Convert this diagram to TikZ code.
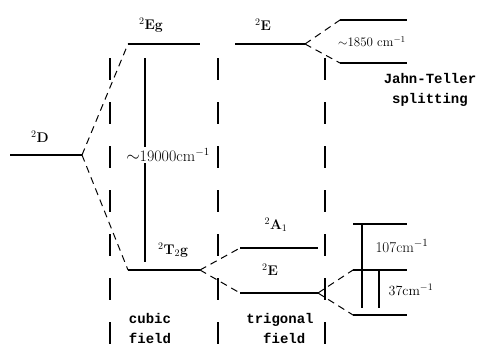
\documentclass[tikz,border=0pt]{standalone}
\usepackage{fontspec}
\newfontfamily\wordfont{Liberation Mono}
\usetikzlibrary{positioning}

\tikzset{
  level/.style={line width=1.4pt},
  split/.style={dash pattern=on 7pt off 5pt, line width=1pt},
  fieldline/.style={dash pattern=on 22pt off 22pt, line width=1.1pt},
  gapline/.style={line width=1.1pt},
  term/.style={font=\fontsize{14}{16}\selectfont\bfseries, inner sep=1pt},
  gaplabel/.style={font=\fontsize{16}{18}\selectfont, fill=white, inner sep=1pt},
  word/.style={font=\wordfont\bfseries\fontsize{14}{17}\selectfont, align=center, inner sep=0pt}
}

\begin{document}
\begin{tikzpicture}[x=1pt, y=-1pt]
  \useasboundingbox (0,0) rectangle (479,351);

  % level ends
  \coordinate (Dl) at (10,155);   \coordinate (Dr) at (82,155);
  \coordinate (Egl) at (128,44);  \coordinate (Egr) at (200,44);
  \coordinate (Tgl) at (128,270); \coordinate (Tgr) at (200,270);
  \coordinate (Eul) at (235,44);  \coordinate (Eur) at (305,44);
  \coordinate (JTal) at (340,20); \coordinate (JTar) at (407,20);
  \coordinate (JTbl) at (340,63); \coordinate (JTbr) at (407,63);
  \coordinate (Al) at (240,248);  \coordinate (Ar) at (318,248);
  \coordinate (Etl) at (240,293); \coordinate (Etr) at (318,293);
  \coordinate (Ral) at (353,224); \coordinate (Rar) at (407,224);
  \coordinate (Rbl) at (353,270); \coordinate (Rbr) at (407,270);
  \coordinate (Rcl) at (353,315); \coordinate (Rcr) at (407,315);

  % field boundaries
  \foreach \xf/\nm in {110/fa, 218/fb, 325/fc} {
    \coordinate (\nm top) at (\xf,58);
    \coordinate (\nm bot) at (\xf,351);
    \draw[fieldline] (\nm top) -- (\nm bot);
  }

  % levels
  \foreach \lv in {D, Eg, Tg, Eu, JTa, JTb, A, Et, Ra, Rb, Rc}
    \draw[level] (\lv l) -- (\lv r);

  % correlations
  \draw[split] (Dr) -- (Egl);
  \draw[split] (Dr) -- (Tgl);
  \draw[split] (Eur) -- (JTal);
  \draw[split] (Eur) -- (JTbl);
  \draw[split] (Tgr) -- (Al);
  \draw[split] (Tgr) -- (Etl);
  \draw[split] (Etr) -- (Rbl);
  \draw[split] (Etr) -- (Rcl);

  % gaps
  \coordinate (ga) at (145,58);  \coordinate (gb) at (145,262);
  \draw[gapline] (ga) -- (gb);
  \node[gaplabel] (cubgap) at (168,155) {$\sim$19000cm$^{-1}$};
  \coordinate (gc) at (362,224); \coordinate (gd) at (362,308);
  \draw[gapline] (gc) -- (gd);
  \coordinate (ge) at (379,270); \coordinate (gf) at (379,308);
  \draw[gapline] (ge) -- (gf);

  % term labels
  \node[term] (lD) at (40,137) {$^2$D};
  \node[term] (lEg) at (151,25) {$^2$Eg};
  \node[term] (lEu) at (263,25) {$^2$E};
  \node[term] (lTg) at (173,250) {$^2$T$_2$g};
  \node[term] (lA) at (276,225) {$^2$A$_1$};
  \node[term] (lEt) at (270,270) {$^2$E};

  % splittings
  \node[font=\fontsize{13}{15}\selectfont, inner sep=1pt] (jtgap) at (372,42) {$\sim$1850 cm$^{-1}$};
  \node[font=\fontsize{15}{17}\selectfont, inner sep=1pt] (gapa) at (402,246) {107cm$^{-1}$};
  \node[font=\fontsize{14}{16}\selectfont, inner sep=1pt] (gapb) at (411,290) {37cm$^{-1}$};

  % words
  \node[word] (jt) at (430,90) {Jahn-Teller\\[3pt]splitting};
  \node[word] (cub) at (150,328) {cubic\\[3pt]field};
  \node[word] (trig) at (280,328) {trigonal\\[3pt]\ field};
\end{tikzpicture}
\end{document}
